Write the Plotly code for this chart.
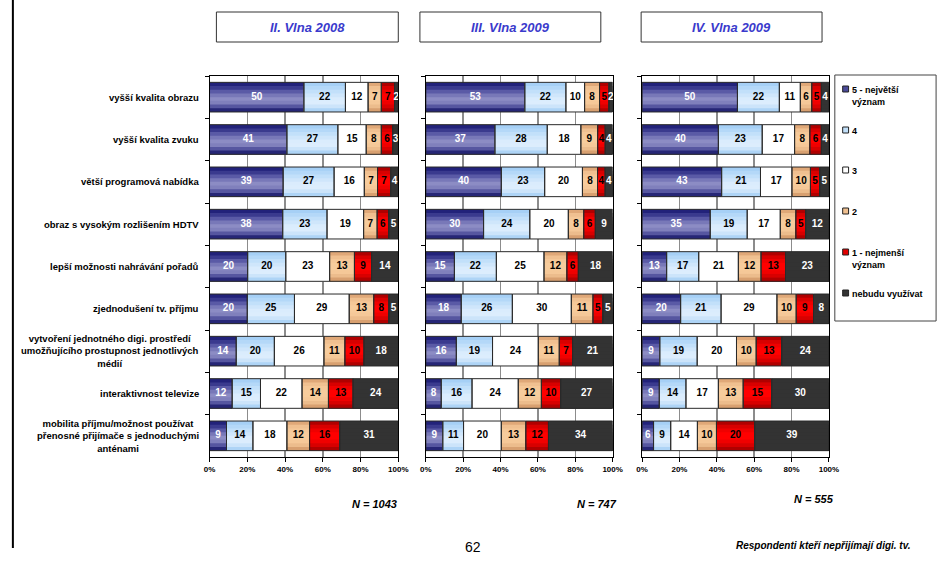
import plotly.graph_objects as go

W, H = 951, 561

categories = [
    "vyšší kvalita obrazu",
    "vyšší kvalita zvuku",
    "větší programová nabídka",
    "obraz s vysokým rozlišením HDTV",
    "lepší možnosti nahrávání pořadů",
    "zjednodušení tv. příjmu",
    "vytvoření jednotného digi. prostředí<br>umožňujícího prostupnost jednotlivých<br>médií",
    "interaktivnost televize",
    "mobilita příjmu/možnost používat<br>přenosné přijímače s jednoduchými<br>anténami",
]

series_names = ["5 - největší<br>význam", "4", "3", "2", "1 - nejmenší<br>význam", "nebudu využívat"]

panel_titles = ["II. Vlna 2008", "III. Vlna 2009", "IV. Vlna 2009"]
panel_n = ["N = 1043", "N = 747", "N = 555"]

# values per panel: rows = categories, cols = series (5,4,3,2,1,nebudu)
wave_2008 = [
    [50, 22, 12, 7, 7, 2],
    [41, 27, 15, 8, 6, 3],
    [39, 27, 16, 7, 7, 4],
    [38, 23, 19, 7, 6, 5],
    [20, 20, 23, 13, 9, 14],
    [20, 25, 29, 13, 8, 5],
    [14, 20, 26, 11, 10, 18],
    [12, 15, 22, 14, 13, 24],
    [9, 14, 18, 12, 16, 31],
]
wave_2009_iii = [
    [53, 22, 10, 8, 5, 2],
    [37, 28, 18, 9, 4, 4],
    [40, 23, 20, 8, 4, 4],
    [30, 24, 20, 8, 6, 9],
    [15, 22, 25, 12, 6, 18],
    [18, 26, 30, 11, 5, 5],
    [16, 19, 24, 11, 7, 21],
    [8, 16, 24, 12, 10, 27],
    [9, 11, 20, 13, 12, 34],
]
wave_2009_iv = [
    [50, 22, 11, 6, 5, 4],
    [40, 23, 17, 8, 6, 4],
    [43, 21, 17, 10, 5, 5],
    [35, 19, 17, 8, 5, 12],
    [13, 17, 21, 12, 13, 23],
    [20, 21, 29, 10, 9, 8],
    [9, 19, 20, 10, 13, 24],
    [9, 14, 17, 13, 15, 30],
    [6, 9, 14, 10, 20, 39],
]
panels = [wave_2008, wave_2009_iii, wave_2009_iv]

x_ticks = [0, 20, 40, 60, 80, 100]
x_tick_text = ["0%", "20%", "40%", "60%", "80%", "100%"]

footer_note = "Respondenti kteří nepřijímají digi. tv."
page_no = "62"

# ---- styles ----
FONT = "Liberation Sans, Arial, sans-serif"
gradients = [
    ["#22227a", "#3a3a8e", "#5a5aa6", "#7878b8", "#8c8cc4", "#8080bc", "#5656a0", "#262676"],
    ["#a6d0f6", "#b4d8f8", "#c2e0fa", "#cfe6fb", "#daecfd", "#dcedfd", "#cce4fa", "#aed4f6"],
    ["#ffffff"] * 8,
    ["#e0a878", "#f0c090", "#f5c898", "#f7cc9c", "#f7cc9c", "#f5c898", "#ecbc8c", "#d8a070"],
    ["#b00000", "#d80000", "#f00000", "#ff0000", "#ff0000", "#f00000", "#d80000", "#b00000"],
    ["#333333"] * 8,
]
legend_colors = ["#4a4a98", "#c2e0fa", "#ffffff", "#f0c090", "#e00000", "#333333"]
text_colors = ["white", "black", "black", "black", "black", "white"]
BAR_W = 0.70


def X(px):
    return px / W


def Y(py):
    return 1 - py / H


panel_px = [(207, 399), (427, 617), (647, 837)]
plot_top, plot_bot = 76, 457

fig = go.Figure()
nstripe = len(gradients[0])
sh = BAR_W / nstripe

for p, data in enumerate(panels):
    xa = "x" if p == 0 else f"x{p+1}"
    ya = "y" if p == 0 else f"y{p+1}"
    # 100 % stacked: normalise each row to its total
    shares = [[v * 100.0 / sum(r) for v in r] for r in data]
    bases = []
    for r in shares:
        acc = [0.0]
        for v in r[:-1]:
            acc.append(acc[-1] + v)
        bases.append(acc)
    # gradient fills: each stripe reaches down to the bar bottom, later ones overlay
    for s in range(len(series_names)):
        vals = [row[s] for row in shares]
        bs = [b[s] for b in bases]
        for k in range(nstripe):
            fig.add_trace(go.Bar(
                orientation="h", y=categories, x=vals, base=bs,
                width=BAR_W - k * sh, offset=-BAR_W / 2 + k * sh,
                marker=dict(color=gradients[s][k], line=dict(width=0)),
                xaxis=xa, yaxis=ya, showlegend=False, hoverinfo="skip",
            ))
    # outlines
    for s in range(len(series_names)):
        vals = [row[s] for row in shares]
        bs = [b[s] for b in bases]
        fig.add_trace(go.Bar(
            orientation="h", y=categories, x=vals, base=bs,
            width=BAR_W, offset=-BAR_W / 2,
            marker=dict(color="rgba(0,0,0,0)", line=dict(color="#2a2a2a", width=1)),
            xaxis=xa, yaxis=ya, showlegend=False, name=series_names[s],
            hoverinfo="skip",
        ))
    # value labels at segment centres
    for s in range(len(series_names)):
        mids = [b[s] + row[s] / 2 for b, row in zip(bases, shares)]
        fig.add_trace(go.Scatter(
            x=mids, y=categories, mode="text",
            text=[str(row[s]) for row in data], textposition="middle center",
            textfont=dict(color=text_colors[s], size=10, family=FONT, weight="bold"),
            xaxis=xa, yaxis=ya, showlegend=False, hoverinfo="skip",
            cliponaxis=False,
        ))

layout = dict(
    width=W, height=H, autosize=False,
    margin=dict(l=0, r=0, t=0, b=0),
    paper_bgcolor="white", plot_bgcolor="white",
    barmode="overlay", showlegend=False,
    font=dict(family=FONT, color="black"),
)
for p, (x0, x1) in enumerate(panel_px):
    sfx = "" if p == 0 else str(p + 1)
    layout["xaxis" + sfx] = dict(
        domain=[X(x0), X(x1)], range=[0, 100], anchor="y" + sfx,
        tickvals=x_ticks, ticktext=x_tick_text,
        tickfont=dict(size=8, family=FONT, weight="bold"),
        ticks="outside", ticklen=4, tickcolor="black",
        showline=True, linecolor="black", linewidth=1, mirror=True,
        showgrid=True, gridcolor="#8c8c8c", gridwidth=1.5, zeroline=False,
        fixedrange=True,
    )
    layout["yaxis" + sfx] = dict(
        domain=[Y(plot_bot), Y(plot_top)], anchor="x" + sfx,
        type="category", categoryorder="array", categoryarray=categories,
        autorange="reversed", showticklabels=False,
        ticks="outside", ticklen=4, tickcolor="black", tickson="boundaries",
        showline=True, linecolor="black", linewidth=1, mirror=True,
        showgrid=False, zeroline=False, fixedrange=True,
    )
fig.update_layout(**layout)

annotations = []
shapes = []

# category labels
for c in categories:
    annotations.append(dict(
        xref="paper", yref="y", x=X(198), y=c, text=c, showarrow=False,
        xanchor="right", yanchor="middle", align="center",
        font=dict(size=9.5, family=FONT, color="black", weight="bold"),
    ))

# title boxes
title_boxes = [(214, 399), (421, 605), (646, 830)]
for (bx0, bx1), t in zip(title_boxes, panel_titles):
    shapes.append(dict(type="rect", xref="paper", yref="paper",
                       x0=X(bx0), x1=X(bx1), y0=Y(42), y1=Y(12),
                       line=dict(color="#333333", width=1), fillcolor="white"))
    annotations.append(dict(
        xref="paper", yref="paper", x=X((bx0 + bx1) / 2), y=Y(27.5), text=f"<i>{t}</i>",
        showarrow=False, xanchor="center", yanchor="middle",
        font=dict(size=13, family=FONT, color="#3a3acc", weight="bold"),
    ))

# N labels
n_pos = [(375, 504), (601, 504), (822, 499)]
for (nx, ny), t in zip(n_pos, panel_n):
    annotations.append(dict(
        xref="paper", yref="paper", x=X(nx), y=Y(ny), text=f"<i>{t}</i>",
        showarrow=False, xanchor="center", yanchor="middle",
        font=dict(size=11, family=FONT, color="black", weight="bold"),
    ))

# legend box
shapes.append(dict(type="rect", xref="paper", yref="paper",
                   x0=X(843), x1=X(946), y0=Y(321), y1=Y(75),
                   line=dict(color="#444444", width=1), fillcolor="white"))
legend_y = [89, 130, 170, 211, 252, 293]
for name, col, ly in zip(series_names, legend_colors, legend_y):
    shapes.append(dict(type="rect", xref="paper", yref="paper",
                       x0=X(851), x1=X(857), y0=Y(ly + 3), y1=Y(ly - 3),
                       line=dict(color="#222222", width=1), fillcolor=col))
    annotations.append(dict(
        xref="paper", yref="paper", x=X(858), y=Y(ly - 6.5), text=name,
        showarrow=False, xanchor="left", yanchor="top", align="left",
        font=dict(size=9, family=FONT, color="black", weight="bold"),
    ))

# left page line
shapes.append(dict(type="line", xref="paper", yref="paper",
                   x0=X(7), x1=X(7), y0=Y(548), y1=1,
                   line=dict(color="black", width=2)))

# footer
annotations.append(dict(
    xref="paper", yref="paper", x=X(475), y=Y(547), text=page_no,
    showarrow=False, xanchor="center", yanchor="middle",
    font=dict(size=14, family=FONT, color="black"),
))
annotations.append(dict(
    xref="paper", yref="paper", x=X(922), y=Y(545), text=f"<i>{footer_note}</i>",
    showarrow=False, xanchor="right", yanchor="middle",
    font=dict(size=10, family=FONT, color="black", weight="bold"),
))

fig.update_layout(annotations=annotations, shapes=shapes)
fig.write_html(
    "out.html",
    config={"displayModeBar": False, "staticPlot": True},
    post_script="document.body.style.margin='0';document.body.style.padding='0';"
                "document.body.style.overflow='hidden';",
)
